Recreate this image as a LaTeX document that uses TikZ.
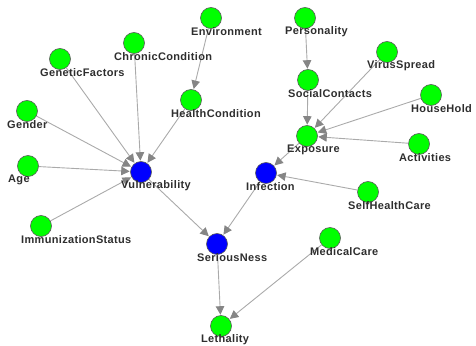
\documentclass[tikz,border=0pt]{standalone}
\usepackage{fontspec}
\setmainfont{Liberation Sans}
\newfontfamily\lblfont[LetterSpace=3]{Liberation Sans Bold}
\usetikzlibrary{arrows.meta}
\pgfdeclarelayer{edges}
\pgfsetlayers{edges,main}
\definecolor{nodegreen}{HTML}{00FF00}
\definecolor{nodeblue}{HTML}{0000FF}
\definecolor{rim}{HTML}{5A5A5A}
\definecolor{edgeline}{HTML}{AAAAAA}
\definecolor{tipgray}{HTML}{858585}
\definecolor{lbltext}{HTML}{2E2E2E}
\tikzset{
  var/.style={circle, draw=rim, line width=0.6pt, minimum size=21pt, inner sep=0pt, fill=nodegreen},
  latent/.style={var, fill=nodeblue},
  lbl/.style={anchor=west, inner sep=0pt, text=lbltext, font=\lblfont\fontsize{11}{12}\selectfont},
  link/.style={draw=edgeline, line width=0.9pt, shorten >=0.5pt,
    -{Triangle[length=8.5pt, width=8.5pt, fill=tipgray, color=tipgray]}},
}
\begin{document}
\begin{tikzpicture}[x=1pt, y=-1pt]
\useasboundingbox (0,0) rectangle (476,345);
% observed variables (green)
\foreach \n/\x/\y in {
  Environment/211/18, ChronicCondition/134/43, GeneticFactors/60/59,
  Gender/27/111, Age/28/166, HealthCondition/191/100,
  ImmunizationStatus/41/226, Lethality/221/326, SelfHealthCare/368/192,
  MedicalCare/330/238, Personality/305/18, SocialContacts/308/80,
  VirusSpread/387/52, HouseHold/431/95, Exposure/307/136, Activities/419/144}
  \node[var] (\n) at (\x,\y) {};
% intermediate variables (blue)
\foreach \n/\x/\y in {Vulnerability/141/172, SeriousNess/217/244, Infection/266/173}
  \node[latent] (\n) at (\x,\y) {};
% directed edges, kept beneath the circles
\begin{pgfonlayer}{edges}
\foreach \a/\b in {
  Environment/HealthCondition, ChronicCondition/Vulnerability,
  GeneticFactors/Vulnerability, Gender/Vulnerability, Age/Vulnerability,
  HealthCondition/Vulnerability, ImmunizationStatus/Vulnerability,
  Vulnerability/SeriousNess, Personality/SocialContacts,
  SocialContacts/Exposure, VirusSpread/Exposure, HouseHold/Exposure,
  Activities/Exposure, Exposure/Infection, SelfHealthCare/Infection,
  Infection/SeriousNess, SeriousNess/Lethality, MedicalCare/Lethality}
  \draw[link] (\a) -- (\b);
\end{pgfonlayer}
% labels, set below-right of each circle
\foreach \n in {Environment, ChronicCondition, GeneticFactors, Gender, Age,
  HealthCondition, ImmunizationStatus, Lethality, SelfHealthCare, MedicalCare,
  Personality, SocialContacts, VirusSpread, HouseHold, Exposure, Activities,
  Vulnerability, SeriousNess, Infection}
  \node[lbl] (\n-l) at ([xshift=-20pt, yshift=-14pt]\n.center) {\n};
\end{tikzpicture}
\end{document}
